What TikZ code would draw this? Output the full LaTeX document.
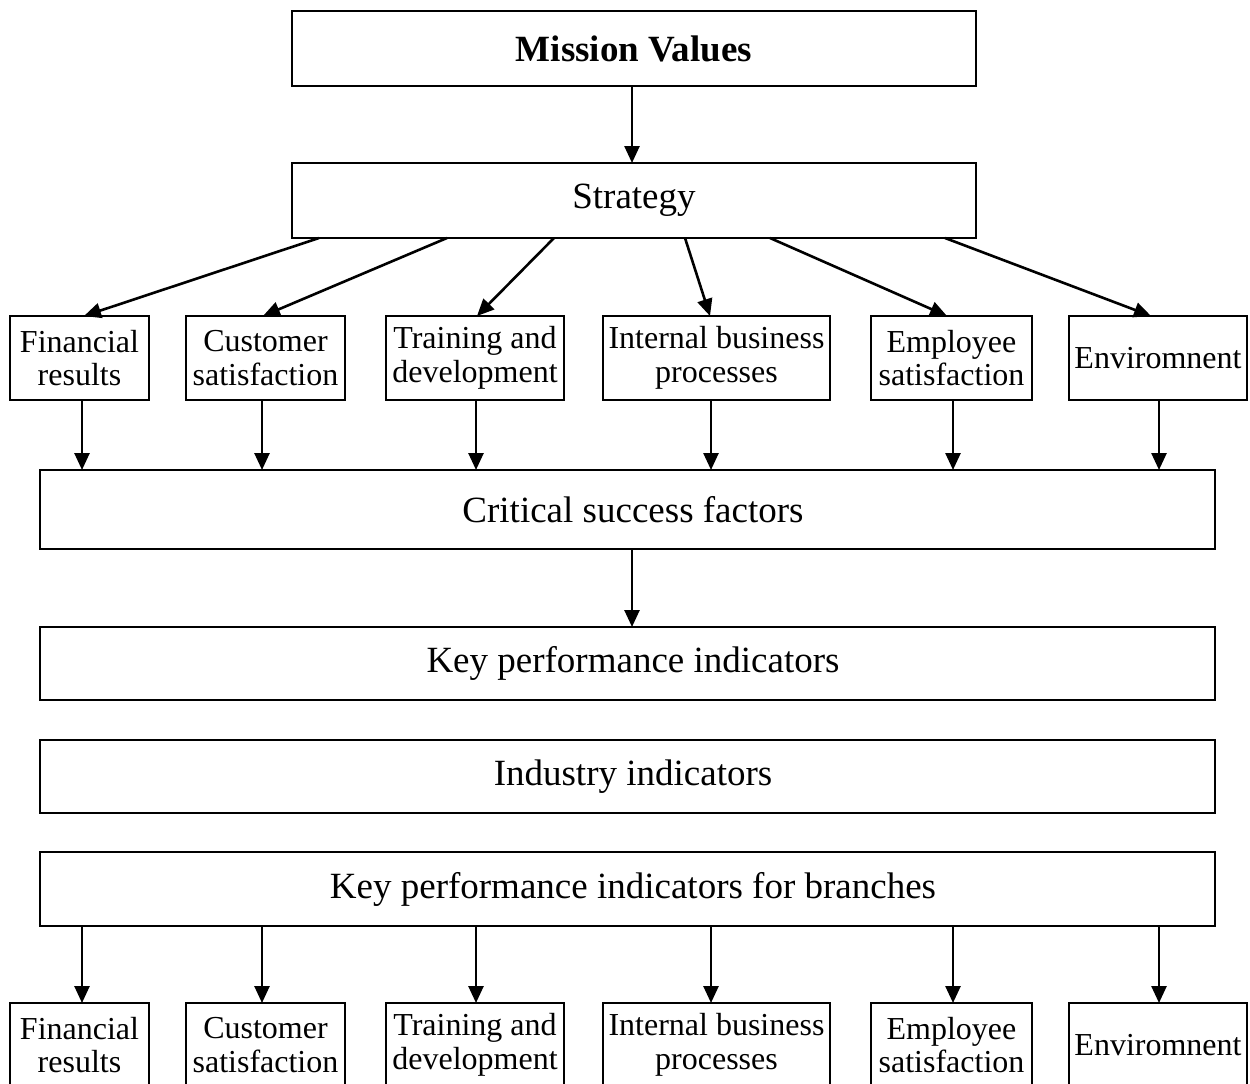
\documentclass[tikz,border=0pt]{standalone}
\usepackage{fontspec}
\setmainfont{Liberation Serif}
\usetikzlibrary{arrows.meta}
\begin{document}
\begin{tikzpicture}[x=1pt,y=-1pt,
  box/.style={draw=black,line width=2.3pt,rectangle,inner sep=0pt,outer sep=0pt},
  bigfont/.style={font=\fontsize{37}{40}\selectfont},
  wide/.style={box,minimum width=1175pt,minimum height=76pt},
  top/.style={box,minimum width=684pt,minimum height=75pt,bigfont},
  small/.style={box,minimum height=84pt,align=center,font=\fontsize{32}{33.5}\selectfont},
  arr/.style={line width=2.6pt,-{Triangle[length=17pt,width=15pt]}}]
\clip (0,0) rectangle (1250,1084);
\fill[white] (0,0) rectangle (1250,1084);

% top of the hierarchy
\node[top] (mv) at (634,48.5) {\bfseries Mission Values};
\node[top] (st) at (634,200.5) {Strategy};

% perspective boxes under the strategy
\node[small,minimum width=139pt] (f1) at (79.5,358) {Financial\\results};
\node[small,minimum width=159pt] (c1) at (265.5,358) {Customer\\satisfaction};
\node[small,minimum width=178pt] (t1) at (475,358) {Training and\\development};
\node[small,minimum width=227pt] (i1) at (716.5,358) {Internal business\\processes};
\node[small,minimum width=161pt] (e1) at (951.5,358) {Employee\\satisfaction};
\node[small,minimum width=178pt] (v1) at (1158,358) {Enviromnent};

% full-width levels (titles sit a little right of the box centre)
\node[wide,minimum height=79pt,label={[bigfont,xshift=5.5pt]center:Critical success factors}] (csf) at (627.5,509.5) {};
\node[wide,minimum height=73pt,label={[bigfont,xshift=5.5pt]center:Key performance indicators}] (kpi) at (627.5,663.5) {};
\node[wide,minimum height=73pt,label={[bigfont,xshift=5.5pt]center:Industry indicators}] (ind) at (627.5,776.5) {};
\node[wide,minimum height=74pt,label={[bigfont,xshift=5.5pt]center:Key performance indicators for branches}] (kpb) at (627.5,889) {};

% perspective boxes for the branches
\node[small,minimum width=139pt] (f2) at (79.5,1045) {Financial\\results};
\node[small,minimum width=159pt] (c2) at (265.5,1045) {Customer\\satisfaction};
\node[small,minimum width=178pt] (t2) at (475,1045) {Training and\\development};
\node[small,minimum width=227pt] (i2) at (716.5,1045) {Internal business\\processes};
\node[small,minimum width=161pt] (e2) at (951.5,1045) {Employee\\satisfaction};
\node[small,minimum width=178pt] (v2) at (1158,1045) {Enviromnent};

% column positions of the vertical arrows
\coordinate (x0) at (632,0);
\coordinate (x1) at (82,0);
\coordinate (x2) at (262,0);
\coordinate (x3) at (476,0);
\coordinate (x4) at (711,0);
\coordinate (x5) at (953,0);
\coordinate (x6) at (1159,0);

% vertical flow
\draw[arr] (mv.south -| x0) -- (st.north -| x0);
\draw[arr] (csf.south -| x0) -- (kpi.north -| x0);

% strategy fans out to the perspectives
\draw[arr] (st.south -| 319,0) -- (f1.north -| 84,0);
\draw[arr] (st.south -| 447,0) -- (c1.north -| 263,0);
\draw[arr] (st.south -| 554,0) -- (t1.north -| 477,0);
\draw[arr] (st.south -| 685,0) -- (i1.north -| 710,0);
\draw[arr] (st.south -| 770,0) -- (e1.north -| 947,0);
\draw[arr] (st.south -| 945,0) -- (v1.north -| 1151,0);

% perspectives into critical success factors
\foreach \b/\x in {f1/x1,c1/x2,t1/x3,i1/x4,e1/x5,v1/x6}
  \draw[arr] (\b.south -| \x) -- (csf.north -| \x);

% branch indicators out to the perspectives
\foreach \b/\x in {f2/x1,c2/x2,t2/x3,i2/x4,e2/x5,v2/x6}
  \draw[arr] (kpb.south -| \x) -- (\b.north -| \x);
\end{tikzpicture}
\end{document}
